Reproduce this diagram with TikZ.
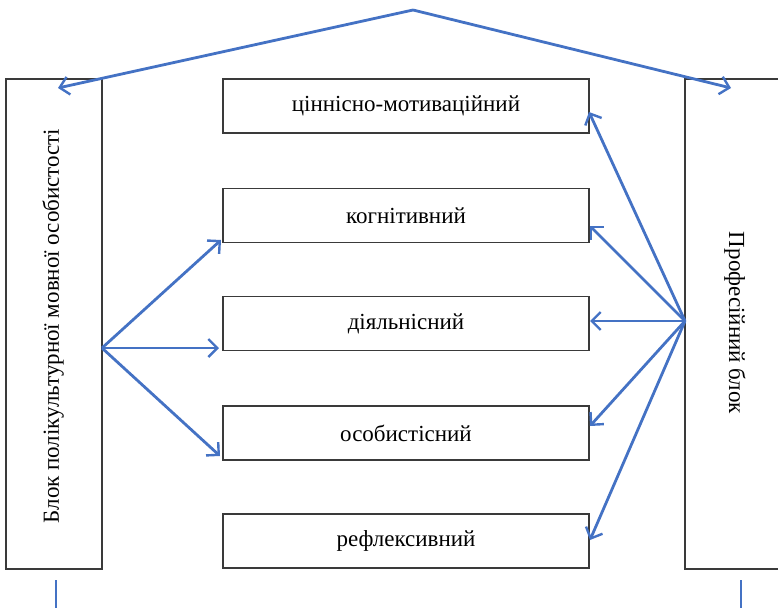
\documentclass[tikz,border=0pt]{standalone}
\usepackage{fontspec}
\setmainfont{Liberation Serif}
\usetikzlibrary{arrows.meta}
\definecolor{arrblue}{HTML}{4472C4}
\definecolor{boxline}{HTML}{3A3A3A}
\begin{document}
\begin{tikzpicture}[x=1pt,y=-1pt,
  blockbox/.style={draw=boxline,line width=1.8pt,inner sep=0pt},
  conn/.style={draw=arrblue,line width=2.8pt,-{Straight Barb[length=9pt,width=18pt,line width=2.4pt]}},
  plainline/.style={draw=arrblue,line width=1.8pt},
  lbl/.style={font=\fontsize{23}{26}\selectfont}]
\useasboundingbox (0,0) rectangle (778,607);
\begin{scope}
\clip (0,0) rectangle (778,607);
% side boxes
\draw[blockbox] (6,79) rectangle (102,569);
\node[lbl,rotate=90] (ltext) at (53,326) {Блок полікультурної мовної особистості};
\draw[blockbox] (685,79) rectangle (800,569);
\node[lbl,rotate=-90] (rtext) at (735,323) {Професійний блок};
% middle boxes
\node[blockbox,minimum width=366pt,minimum height=54pt,lbl] (b1) at (406,106) {ціннісно-мотиваційний};
\node[blockbox,minimum width=366pt,minimum height=54pt,lbl] (b2) at (406,215.5) {когнітивний};
\node[blockbox,minimum width=366pt,minimum height=54pt,lbl] (b3) at (406,323.5) {діяльнісний};
\node[blockbox,minimum width=366pt,minimum height=54pt,lbl] (b4) at (406,433) {особистісний};
\node[blockbox,minimum width=366pt,minimum height=54pt,lbl] (b5) at (406,541) {рефлексивний};
% coordinates
\coordinate (apex) at (413,10);
\coordinate (ltop) at (58,88);
\coordinate (rtop) at (731,88);
\coordinate (lsrc) at (102,348);
\coordinate (rsrc) at (685,321);
\coordinate (ta) at (221,240);
\coordinate (tb) at (219,348);
\coordinate (tc) at (220,456);
\coordinate (r1) at (589,112);
\coordinate (r2) at (590,226);
\coordinate (r3) at (590,321);
\coordinate (r4) at (590,426);
\coordinate (r5) at (590,540);
\coordinate (lb1) at (56,580);
\coordinate (lb2) at (56,610);
\coordinate (rb1) at (741,580);
\coordinate (rb2) at (741,610);
% top roof arrows
\draw[conn] (apex) -- (ltop);
\draw[conn] (apex) -- (rtop);
% left arrows
\draw[conn] (lsrc) -- (ta);
\draw[conn] (lsrc) -- (tb);
\draw[conn] (lsrc) -- (tc);
% right arrows
\draw[conn] (rsrc) -- (r1);
\draw[conn] (rsrc) -- (r2);
\draw[conn] (rsrc) -- (r3);
\draw[conn] (rsrc) -- (r4);
\draw[conn] (rsrc) -- (r5);
% bottom lines
\draw[plainline] (lb1) -- (lb2);
\draw[plainline] (rb1) -- (rb2);
\end{scope}
\end{tikzpicture}
\end{document}
